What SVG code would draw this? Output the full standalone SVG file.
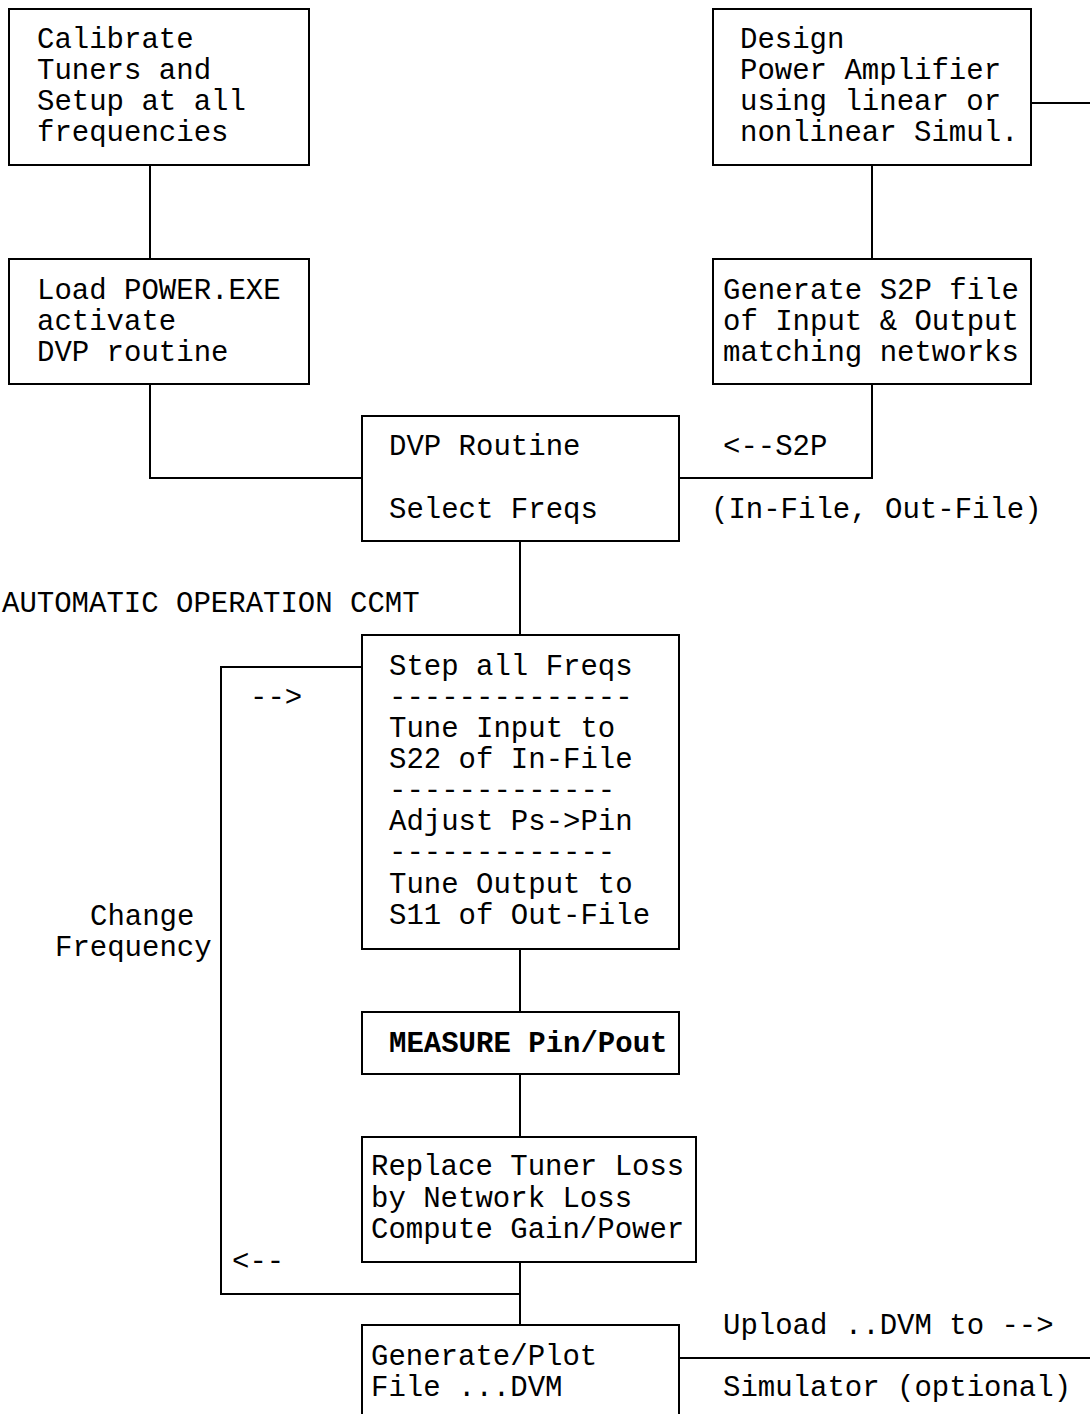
<svg xmlns="http://www.w3.org/2000/svg" width="1090" height="1414" viewBox="0 0 1090 1414">
<style>
text{font-family:"Liberation Mono","Courier New",monospace;font-size:29px;fill:#000;white-space:pre}
.b{font-weight:bold}
rect{fill:#fff;stroke:#000;stroke-width:2}
#connectors path{fill:none;stroke:#000;stroke-width:2}
</style>
<rect x="0" y="0" width="1090" height="1414" style="stroke:none"/>
<g id="connectors">
<path d="M150 165V259"/>
<path d="M872 165V259"/>
<path d="M1031 103H1090"/>
<path d="M150 384V478H362"/>
<path d="M679 478H872V384"/>
<path d="M520 541V635"/>
<path d="M362 667H221V1294H520"/>
<path d="M520 949V1012"/>
<path d="M520 1074V1137"/>
<path d="M520 1262V1325"/>
<path d="M679 1358H1090"/>
</g>
<g id="calibrate">
<rect x="9" y="9" width="300" height="156"/>
<text x="37" y="48">Calibrate</text>
<text x="37" y="79">Tuners and</text>
<text x="37" y="110">Setup at all</text>
<text x="37" y="141">frequencies</text>
</g>
<g id="design">
<rect x="713" y="9" width="318" height="156"/>
<text x="740" y="48">Design</text>
<text x="740" y="79">Power Amplifier</text>
<text x="740" y="110">using linear or</text>
<text x="740" y="141">nonlinear Simul.</text>
</g>
<g id="load">
<rect x="9" y="259" width="300" height="125"/>
<text x="37" y="299">Load POWER.EXE</text>
<text x="37" y="330">activate</text>
<text x="37" y="361">DVP routine</text>
</g>
<g id="s2p">
<rect x="713" y="259" width="318" height="125"/>
<text x="723" y="299">Generate S2P file</text>
<text x="723" y="330">of Input &amp; Output</text>
<text x="723" y="361">matching networks</text>
</g>
<g id="dvp">
<rect x="362" y="416" width="317" height="125"/>
<text x="389" y="455">DVP Routine</text>
<text x="389" y="518">Select Freqs</text>
</g>
<g id="labels">
<text x="723" y="455">&lt;--S2P</text>
<text x="711" y="518">(In-File, Out-File)</text>
<text x="2" y="612">AUTOMATIC OPERATION CCMT</text>
<text x="250" y="706">--&gt;</text>
<text x="90" y="925">Change</text>
<text x="55" y="956">Frequency</text>
<text x="232" y="1270">&lt;--</text>
<text x="723" y="1334">Upload ..DVM to --&gt;</text>
<text x="723" y="1396">Simulator (optional)</text>
</g>
<g id="step">
<rect x="362" y="635" width="317" height="314"/>
<text x="389" y="675">Step all Freqs</text>
<text x="389" y="706">--------------</text>
<text x="389" y="737">Tune Input to</text>
<text x="389" y="768">S22 of In-File</text>
<text x="389" y="799">-------------</text>
<text x="389" y="830">Adjust Ps-&gt;Pin</text>
<text x="389" y="861">-------------</text>
<text x="389" y="893">Tune Output to</text>
<text x="389" y="924">S11 of Out-File</text>
</g>
<g id="measure">
<rect x="362" y="1012" width="317" height="62"/>
<text class="b" x="389" y="1052">MEASURE Pin/Pout</text>
</g>
<g id="replace">
<rect x="362" y="1137" width="334" height="125"/>
<text x="371" y="1175">Replace Tuner Loss</text>
<text x="371" y="1207">by Network Loss</text>
<text x="371" y="1238">Compute Gain/Power</text>
</g>
<g id="generate">
<rect x="362" y="1325" width="317" height="100"/>
<text x="371" y="1365">Generate/Plot</text>
<text x="371" y="1396">File ...DVM</text>
</g>
</svg>
